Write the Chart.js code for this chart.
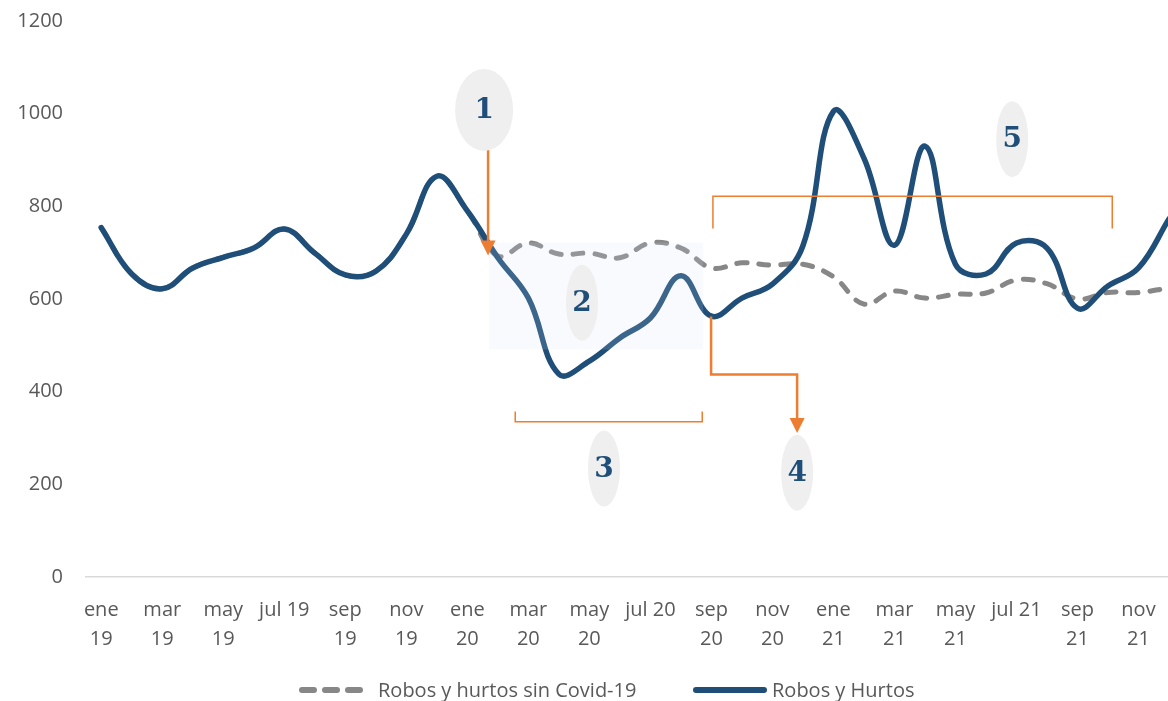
<!DOCTYPE html>
<html lang="es">
<head>
<meta charset="utf-8">
<title>Robos y hurtos</title>
<script src="https://cdn.jsdelivr.net/npm/chart.js@4.4.1/dist/chart.umd.min.js"></script>
<style>
  html, body { margin: 0; padding: 0; background: #fff; overflow: hidden; }
  #wrap { position: relative; width: 1188px; height: 701px; }
  #chart { display: block; }
  .legend { position: absolute; left: 0; top: 677px; width: 1168px; height: 26px;
            font: 20px "Open Sans", sans-serif; color: #595959; }
  .legend svg, .legend span { position: absolute; top: 0; }
  .legend span { line-height: 26px; white-space: nowrap; }
</style>
</head>
<body>
<div id="wrap">
  <canvas id="chart" width="1188" height="701"></canvas>
  <div class="legend">
    <svg style="left:296px" width="70" height="26">
      <line x1="6" y1="13" x2="64" y2="13" stroke="#878787" stroke-width="6"
            stroke-linecap="round" stroke-dasharray="12 11"/>
    </svg>
    <span style="left:378px">Robos y hurtos sin Covid-19</span>
    <svg style="left:690px" width="80" height="26">
      <line x1="6" y1="13" x2="74" y2="13" stroke="#1F4E79" stroke-width="6"
            stroke-linecap="round"/>
    </svg>
    <span style="left:772px">Robos y Hurtos</span>
  </div>
</div>

<script>
'use strict';

/* ── Data ───────────────────────────────────────────────────────────────── */
const months = [
  'ene 19','feb 19','mar 19','abr 19','may 19','jun 19','jul 19','ago 19','sep 19','oct 19','nov 19','dic 19',
  'ene 20','feb 20','mar 20','abr 20','may 20','jun 20','jul 20','ago 20','sep 20','oct 20','nov 20','dic 20',
  'ene 21','feb 21','mar 21','abr 21','may 21','jun 21','jul 21','ago 21','sep 21','oct 21','nov 21','dic 21'
];

const robosHurtos = [
  754, 654, 622, 667, 690, 710, 751, 699, 652, 660, 740, 865,
  790, 689, 602, 438, 466, 516, 559, 650, 563, 602, 632, 715,
  1005, 904, 716, 930, 675, 654, 721, 710, 580, 628, 667, 773
];

const sinCovid = [
  754, 654, 622, 667, 690, 710, 751, 699, 652, 660, 740, 865,
  790, 693, 721, 697, 699, 689, 721, 710, 667, 678, 673, 675,
  648, 589, 617, 602, 610, 613, 641, 633, 600, 614, 614, 624
];

const yTicks = [0, 200, 400, 600, 800, 1000, 1200];

/* ── Annotation layout (category index / value units) ───────────────────── */
const ORANGE = '#ED7D31';
const NAVY   = '#1F4E79';

const badges = [
  { n: '1', x: 12.55, y: 1008, rx: 29, ry: 41 },
  { n: '2', x: 15.76, y: 592,  rx: 16, ry: 38 },
  { n: '3', x: 16.48, y: 234,  rx: 16, ry: 38 },
  { n: '4', x: 22.81, y: 225,  rx: 16, ry: 38 },
  { n: '5', x: 29.86, y: 945,  rx: 16, ry: 38 }
];

const shade = { x0: 12.71, x1: 19.73, y0: 722, y1: 491 };

// polylines: [index, value] pairs, optional arrow at the end
const paths = [
  { pts: [[12.68, 949], [12.68, 694]], width: 2.5, arrow: true },
  { pts: [[19.99, 562], [19.99, 437], [22.81, 437], [22.81, 311]], width: 2.5, arrow: true },
  { pts: [[13.57, 357], [13.57, 335], [19.70, 335], [19.70, 357]], width: 1.5 },
  { pts: [[20.05, 752], [20.05, 822], [33.14, 822], [33.14, 752]], width: 1.5 }
];

/* ── Annotation plugin ──────────────────────────────────────────────────── */
const annotations = {
  id: 'annotations',
  afterDatasetsDraw(chart) {
    const { ctx, scales: { x, y } } = chart;
    const px = v => x.getPixelForValue(v);
    const py = v => y.getPixelForValue(v);

    ctx.save();

    // light overlay box over the lockdown months
    ctx.fillStyle = 'rgba(214,226,242,0.16)';
    ctx.fillRect(px(shade.x0), py(shade.y0), px(shade.x1) - px(shade.x0), py(shade.y1) - py(shade.y0));

    // orange arrows and brackets
    ctx.strokeStyle = ORANGE;
    ctx.fillStyle = ORANGE;
    ctx.lineJoin = 'miter';
    paths.forEach(p => {
      const pts = p.pts.map(([a, b]) => [px(a), py(b)]);
      const last = pts[pts.length - 1];
      const head = 15;
      ctx.lineWidth = p.width;
      ctx.beginPath();
      pts.forEach(([a, b], i) => {
        const yy = (p.arrow && i === pts.length - 1) ? b - head + 2 : b;
        if (i === 0) ctx.moveTo(a, b); else ctx.lineTo(a, yy);
      });
      ctx.stroke();
      if (p.arrow) {
        ctx.beginPath();
        ctx.moveTo(last[0], last[1]);
        ctx.lineTo(last[0] - 7.5, last[1] - head);
        ctx.lineTo(last[0] + 7.5, last[1] - head);
        ctx.closePath();
        ctx.fill();
      }
    });

    // numbered grey badges
    badges.forEach(b => {
      const cx = px(b.x), cy = py(b.y);
      ctx.fillStyle = '#efefef';
      ctx.beginPath();
      ctx.ellipse(cx, cy, b.rx, b.ry, 0, 0, Math.PI * 2);
      ctx.fill();
      ctx.fillStyle = NAVY;
      ctx.font = 'bold 28px "DejaVu Serif", serif';
      ctx.textAlign = 'center';
      ctx.textBaseline = 'middle';
      ctx.fillText(b.n, cx, cy + 1);
    });

    ctx.restore();
  }
};

/* ── Chart ──────────────────────────────────────────────────────────────── */
Chart.defaults.font.family = '"Open Sans", sans-serif';
Chart.defaults.font.size = 20;
Chart.defaults.color = '#595959';

new Chart(document.getElementById('chart'), {
  type: 'line',
  data: {
    labels: months,
    datasets: [
      {
        label: 'Robos y hurtos sin Covid-19',
        data: sinCovid,
        borderColor: '#878787',
        borderWidth: 5,
        borderDash: [10, 12],
        borderCapStyle: 'round',
        pointRadius: 0,
        tension: 0.4,
        order: 1
      },
      {
        label: 'Robos y Hurtos',
        data: robosHurtos,
        borderColor: NAVY,
        borderWidth: 5.5,
        borderCapStyle: 'round',
        pointRadius: 0,
        tension: 0.4,
        order: 0
      }
    ]
  },
  options: {
    responsive: false,
    animation: false,
    layout: { padding: { top: 21, right: 0, bottom: 28, left: 0 } },
    plugins: { legend: { display: false }, tooltip: { enabled: false } },
    scales: {
      x: {
        offset: true,
        grid: { display: false, drawTicks: false },
        border: { display: true, color: '#d9d9d9', width: 1.5 },
        ticks: {
          autoSkip: false,
          maxRotation: 0,
          padding: 19,
          font: { size: 20, lineHeight: 1.45 },
          callback: (v, i) => {
            if (i % 2) return '';
            const m = months[i];
            return m.startsWith('jul') ? m : m.split(' ');
          }
        }
      },
      y: {
        min: 0,
        max: 1200,
        // tick marks hidden; tickLength only pushes the labels left
        grid: { display: false, drawTicks: true, tickLength: 23 },
        border: { display: false },
        ticks: { padding: 0, font: { size: 20, lineHeight: 1.4 }, callback: v => String(v) },
        afterBuildTicks: s => { s.ticks = yTicks.map(v => ({ value: v })); },
        afterFit: s => { s.width = 86; }
      }
    }
  },
  plugins: [annotations]
});
</script>
</body>
</html>
